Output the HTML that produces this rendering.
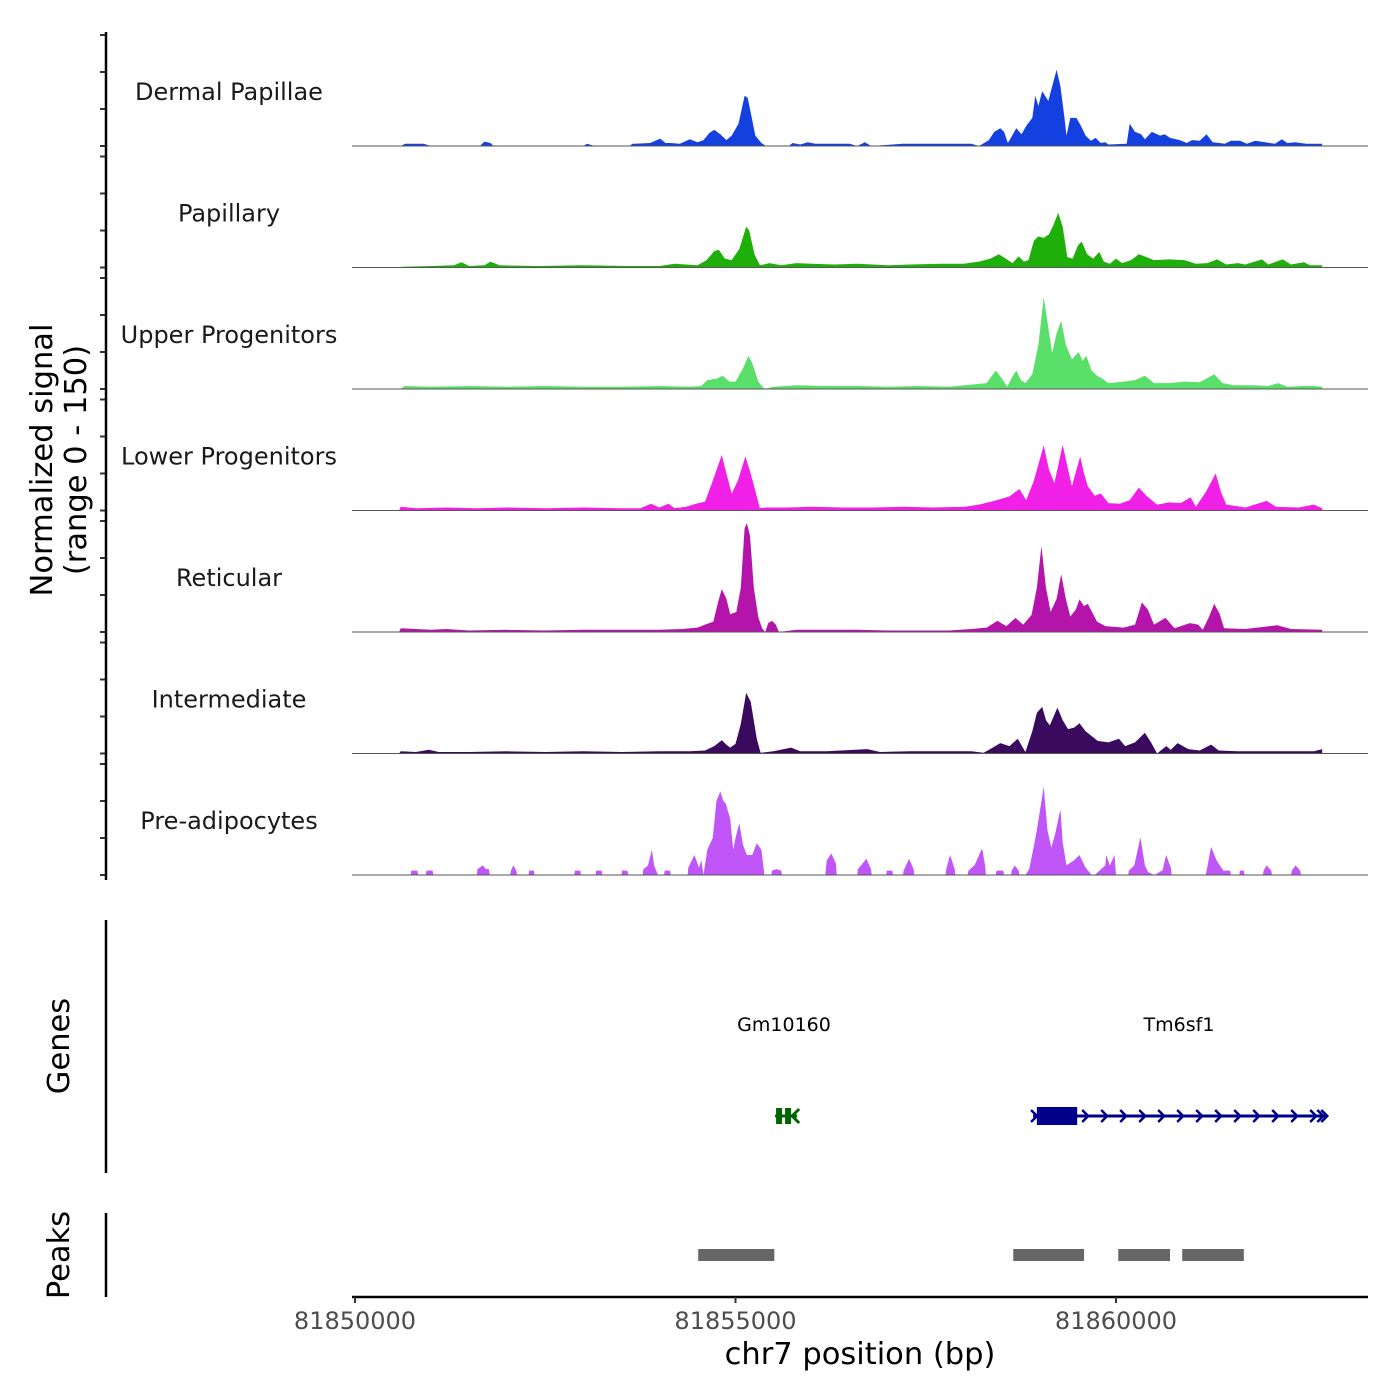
<!DOCTYPE html>
<html><head><meta charset="utf-8"><style>
html,body{margin:0;padding:0;background:#fff;}
svg{display:block;font-family:"DejaVu Sans","Liberation Sans",sans-serif;}
</style></head><body>
<svg id="chart" width="1400" height="1400" viewBox="0 0 1400 1400" xmlns="http://www.w3.org/2000/svg">
<g id="tracks"></g>
<g id="axes"></g>
<g id="genes"></g>
<g id="peaks"></g>
</svg>
<script>
// ---- data (positions in kb offset from 81,850,000; signal 0-150) ----
const regionStart = 81850000;
const trackNames = ["Dermal Papillae","Papillary","Upper Progenitors","Lower Progenitors","Reticular","Intermediate","Pre-adipocytes"];
const trackColors = ["#1540e0","#1faf0a","#5adf6a","#f020e6","#b414aa","#3a0a5f","#c055f8"];
const xTicks = [81850000, 81855000, 81860000];
const yTicks = [0, 50, 100, 150];

const dpPos = [0.60,0.66,0.90,1.0,1.64,1.70,1.78,1.82,3.0,3.05,3.15,3.6,3.65,3.88,4.01,4.08,4.14,4.27,4.40,4.50,4.58,4.66,4.72,4.80,4.88,4.95,5.04,5.12,5.16,5.21,5.26,5.34,5.40,5.7,5.75,5.85,5.95,6.05,6.2,6.5,6.6,6.7,6.78,7.2,7.6,8.0,8.1,8.2,8.33,8.40,8.48,8.53,8.58,8.63,8.69,8.76,8.82,8.90,8.94,8.98,9.03,9.11,9.18,9.22,9.27,9.32,9.35,9.40,9.48,9.54,9.60,9.67,9.73,9.80,9.86,9.9,10.14,10.18,10.25,10.33,10.38,10.47,10.58,10.64,10.71,10.84,10.93,11.0,11.10,11.19,11.27,11.36,11.43,11.51,11.63,11.72,11.83,11.96,12.09,12.18,12.25,12.35,12.5,12.71];
const dpVal = [0,3,3,0,0,6,4,0,0,3,0,0,3,4,10,4,4,3,9,5,8,18,22,16,8,14,30,68,65,40,14,4,0,0,4,2,5,3,3,3,0,5,0,3,3,3,3,0,8,19,24,19,4,13,24,16,27,38,68,54,74,61,88,103,81,40,14,38,38,27,14,7,11,4,5,2,3,30,19,16,9,19,14,16,11,8,4,8,7,16,5,4,3,7,7,3,7,5,3,9,4,5,3,3];

const papPos = [0.6,0.62,1.0,1.3,1.4,1.5,1.7,1.78,1.9,2.4,3.0,3.6,4.0,4.2,4.5,4.62,4.72,4.78,4.86,4.95,5.05,5.14,5.18,5.25,5.32,5.45,5.6,5.8,6.0,6.3,6.6,7.0,7.3,7.7,8.0,8.2,8.35,8.46,8.55,8.64,8.72,8.79,8.85,8.92,8.98,9.05,9.12,9.18,9.24,9.30,9.36,9.43,9.50,9.55,9.62,9.70,9.78,9.84,9.92,10.0,10.08,10.2,10.3,10.4,10.5,10.7,10.9,11.05,11.2,11.33,11.45,11.6,11.7,11.92,12.0,12.19,12.3,12.47,12.55,12.71];
const papVal = [0,1,2,3,7,2,3,8,3,2,3,2,2,5,3,10,22,24,12,10,25,55,50,18,3,6,3,6,5,4,5,3,4,5,5,8,12,18,12,6,15,8,10,36,42,40,45,58,74,55,14,12,30,35,18,12,21,8,5,12,6,10,18,14,10,11,10,5,6,11,4,6,4,11,4,11,4,7,3,3];

const upPos = [0.6,0.65,1.0,1.5,2.0,2.5,3.0,3.5,4.0,4.4,4.55,4.63,4.75,4.83,4.92,5.0,5.1,5.17,5.22,5.3,5.38,5.5,5.8,6.2,6.6,7.0,7.4,7.8,8.1,8.3,8.42,8.5,8.57,8.63,8.69,8.75,8.81,8.9,8.98,9.05,9.1,9.16,9.22,9.28,9.34,9.42,9.51,9.56,9.61,9.68,9.75,9.82,9.9,10.1,10.25,10.38,10.5,10.7,10.9,11.1,11.29,11.4,11.55,11.8,12.0,12.13,12.25,12.45,12.6,12.71];
const upVal = [0,4,3,4,3,4,3,3,4,3,4,12,14,18,10,10,28,45,35,10,0,3,5,4,4,3,4,3,6,8,25,14,3,15,25,12,8,20,60,124,90,49,75,92,60,40,50,38,45,25,18,14,8,10,12,18,8,8,10,9,20,8,5,5,4,8,3,4,4,3];

const loPos = [0.58,0.6,0.8,1.2,1.6,2.0,2.5,3.0,3.5,3.75,3.89,4.0,4.12,4.2,4.35,4.48,4.6,4.7,4.82,4.88,4.95,5.03,5.13,5.2,5.32,5.4,5.7,6.0,6.4,6.8,7.2,7.6,8.02,8.2,8.4,8.6,8.73,8.82,8.92,9.05,9.12,9.19,9.30,9.36,9.42,9.53,9.58,9.63,9.72,9.8,9.9,10.05,10.18,10.30,10.4,10.54,10.7,10.85,10.98,11.05,11.18,11.31,11.38,11.45,11.7,11.98,12.1,12.4,12.6,12.71];
const loVal = [0,5,3,4,3,4,3,4,3,3,9,4,9,3,5,9,12,40,75,50,23,40,73,50,3,4,4,5,4,4,5,4,5,8,13,19,29,14,40,88,55,37,89,60,33,73,50,33,20,23,10,9,14,31,20,8,11,10,18,5,25,50,25,8,4,13,5,4,8,3];

const retPos = [0.58,0.6,0.8,1.0,1.2,1.5,2.0,2.5,3.0,3.5,4.0,4.3,4.5,4.6,4.71,4.77,4.82,4.88,4.93,5.01,5.07,5.12,5.15,5.19,5.24,5.3,5.35,5.39,5.43,5.48,5.53,5.57,5.8,6.2,6.6,7.0,7.4,7.8,8.1,8.3,8.44,8.56,8.68,8.78,8.89,8.96,9.02,9.08,9.14,9.22,9.28,9.34,9.40,9.47,9.52,9.58,9.63,9.75,9.86,10.1,10.25,10.34,10.42,10.5,10.65,10.77,10.97,11.08,11.14,11.22,11.29,11.36,11.42,11.7,12.12,12.3,12.71];
const retVal = [0,5,4,3,4,2,3,2,3,3,3,4,6,10,14,40,58,45,24,27,60,140,147,130,60,20,5,0,12,15,10,0,3,3,3,2,2,2,4,6,15,8,19,10,23,60,116,60,27,45,78,45,21,30,44,35,38,14,8,6,10,40,30,10,19,5,12,10,3,20,38,25,5,4,9,4,3];

const intPos = [0.58,0.6,0.8,0.97,1.1,1.5,2.0,2.5,3.0,3.5,4.0,4.4,4.6,4.72,4.82,4.88,4.93,5.0,5.07,5.14,5.2,5.28,5.33,5.5,5.73,5.85,6.2,6.73,6.9,7.3,7.8,8.1,8.26,8.38,8.48,8.6,8.71,8.81,8.9,8.96,9.03,9.08,9.13,9.23,9.30,9.37,9.45,9.52,9.6,9.76,9.9,10.04,10.12,10.25,10.38,10.46,10.54,10.66,10.72,10.81,10.95,11.1,11.25,11.35,11.6,12.0,12.4,12.6,12.71];
const intVal = [0,3,2,5,2,2,3,2,3,2,3,3,4,10,18,12,8,13,40,82,70,20,1,3,8,3,3,6,2,3,3,3,1,8,14,10,20,2,30,55,63,45,38,62,45,33,35,41,30,17,15,20,10,15,28,15,0,10,5,14,6,4,12,4,3,3,3,3,6];

const preaPos = [0.73,0.74,0.82,0.83,0.93,0.94,1.02,1.03,1.60,1.61,1.68,1.72,1.76,1.77,2.04,2.05,2.08,2.12,2.13,2.28,2.29,2.35,2.36,2.88,2.89,2.96,2.97,3.16,3.17,3.24,3.25,3.50,3.51,3.58,3.59,3.78,3.79,3.85,3.90,3.93,3.98,4.06,4.07,4.14,4.15,4.37,4.38,4.46,4.52,4.55,4.58,4.63,4.70,4.75,4.80,4.84,4.87,4.93,4.97,5.0,5.05,5.10,5.15,5.22,5.28,5.34,5.38,5.47,5.48,5.54,5.60,5.61,6.18,6.2,6.26,6.32,6.33,6.60,6.61,6.72,6.78,6.79,6.98,6.99,7.06,7.07,7.20,7.21,7.28,7.34,7.35,7.76,7.77,7.82,7.88,7.89,8.05,8.06,8.14,8.24,8.28,8.29,8.42,8.43,8.52,8.53,8.62,8.63,8.67,8.72,8.73,8.81,8.86,8.93,8.97,9.05,9.10,9.15,9.20,9.27,9.30,9.35,9.45,9.52,9.60,9.68,9.72,9.86,9.87,9.92,9.98,10.0,10.16,10.17,10.24,10.32,10.38,10.42,10.50,10.51,10.60,10.61,10.66,10.72,10.73,11.18,11.19,11.25,11.32,11.41,11.50,11.51,11.62,11.63,11.68,11.69,11.93,11.94,11.98,12.04,12.05,12.30,12.31,12.36,12.42,12.43];
const preaVal = [0,6,6,0,0,6,6,0,0,8,13,8,8,0,0,6,13,6,0,0,6,6,0,0,6,6,0,0,6,6,0,0,6,6,0,0,8,13,34,13,0,0,6,6,0,0,10,27,10,20,0,34,50,100,113,100,97,76,34,50,70,40,27,27,43,34,0,0,6,8,6,0,0,20,29,15,0,0,8,22,8,0,0,6,6,0,0,6,22,8,0,0,8,27,8,0,0,6,13,36,13,0,0,6,6,0,0,6,13,6,0,0,8,44,67,119,60,37,55,89,44,13,20,27,10,0,0,13,27,13,27,0,0,6,13,51,13,4,0,0,6,6,27,10,0,0,6,38,20,6,6,0,0,6,6,0,0,6,13,6,0,0,6,13,6,0];

const allPos = [dpPos, papPos, upPos, loPos, retPos, intPos, preaPos];
const allVal = [dpVal, papVal, upVal, loVal, retVal, intVal, preaVal];

const geneNames = ["Gm10160","Tm6sf1"];
const geneStrands = [-1, 1];
const geneStarts = [81855520, 81858910];
const geneEnds = [81855810, 81862750];
const exonStarts = [81855540, 81858960];
const exonEnds = [81855800, 81859490];
const peakStarts = [81854510, 81858650, 81860030, 81860870];
const peakEnds = [81855510, 81859580, 81860710, 81861680];

// ---- scales ----
const NS = "http://www.w3.org/2000/svg";
const X0 = 355, PX_PER_BP = 380.5/5000;
function xScale(bp){ return X0 + (bp - regionStart) * PX_PER_BP; }
const TRACK_STEP = 121.5, FIRST_BASE = 146, PX_PER_UNIT = 0.74;
function baseY(i){ return FIRST_BASE + i*TRACK_STEP; }
function yScale(i, v){ return baseY(i) - v*PX_PER_UNIT; }
function mk(tag, attrs, parent){ const e=document.createElementNS(NS,tag); for(const k in attrs) e.setAttribute(k,attrs[k]); parent.appendChild(e); return e; }

const tracks = document.getElementById('tracks');
const axes = document.getElementById('axes');
const genes = document.getElementById('genes');
const peaks = document.getElementById('peaks');

trackNames.forEach((name, i) => {
  const pos = allPos[i], val = allVal[i];
  let d = `M${xScale(regionStart + pos[0]*1000).toFixed(1)},${baseY(i)}`;
  for (let k=0;k<pos.length;k++) d += `L${xScale(regionStart+pos[k]*1000).toFixed(1)},${yScale(i,val[k]).toFixed(1)}`;
  d += `L${xScale(regionStart + pos[pos.length-1]*1000).toFixed(1)},${baseY(i)}Z`;
  const p = mk('path', {d:d, fill:trackColors[i]}, tracks);
  
  
  const bl = mk('line', {x1:352, x2:1368, y1:baseY(i), y2:baseY(i), stroke:'#555', 'stroke-width':1}, tracks);
  
  
  const t = mk('text', {x:229, y:baseY(i)-46, 'text-anchor':'middle', 'font-size':24, fill:'#1a1a1a'}, tracks);
  t.textContent = name;
  
  
  yTicks.forEach(v => {
    const tk = mk('line', {x1:100, x2:106, y1:yScale(i,v), y2:yScale(i,v), stroke:'#333', 'stroke-width':2}, axes);
    
    
  });
});

[[32,880],[920,1173],[1213,1297]].forEach(r => {
  const l = mk('line', {x1:106, x2:106, y1:r[0], y2:r[1], stroke:'#000', 'stroke-width':2.5}, axes);
  
  
});
const yt = mk('text', {transform:'translate(52,460) rotate(-90)', 'text-anchor':'middle', 'font-size':30.5, fill:'#000'}, axes);


const ts1 = mk('tspan', {x:0, y:0}, yt); ts1.textContent = 'Normalized signal';
const ts2 = mk('tspan', {x:0, y:34}, yt); ts2.textContent = '(range 0 - 150)';
const gt = mk('text', {transform:'translate(69,1046) rotate(-90)', 'text-anchor':'middle', 'font-size':30.5, fill:'#000'}, axes);
gt.textContent = 'Genes';


const pt = mk('text', {transform:'translate(69,1255) rotate(-90)', 'text-anchor':'middle', 'font-size':30.5, fill:'#000'}, axes);
pt.textContent = 'Peaks';



const xl = mk('line', {x1:352, x2:1368, y1:1297, y2:1297, stroke:'#000', 'stroke-width':2.5}, axes);


xTicks.forEach(b => {
  const tk = mk('line', {x1:xScale(b), x2:xScale(b), y1:1297, y2:1303, stroke:'#333', 'stroke-width':2}, axes);
  
  
  const tl = mk('text', {x:xScale(b), y:1329, 'text-anchor':'middle', 'font-size':24, fill:'#4d4d4d'}, axes);
  tl.textContent = String(b);
  
  
});
const xt = mk('text', {x:860, y:1364, 'text-anchor':'middle', 'font-size':30.5, fill:'#000'}, axes);
xt.textContent = 'chr7 position (bp)';



const geneColors = ["#006400","#00008b"];
geneNames.forEach((g, i) => {
  const x1 = xScale(geneStarts[i]), x2 = xScale(geneEnds[i]);
  const c = geneColors[i], y = 1116, s = geneStrands[i];
  const lab = mk('text', {x:(i===0? 784 : 1179), y:1031, 'text-anchor':'middle', 'font-size':19, fill:'#000'}, genes);
  lab.textContent = g;
  
  
  const ln = mk('line', {x1:x1, x2:x2, y1:y, y2:y, stroke:c, 'stroke-width':3}, genes);
  
  
  if (s > 0) {
    const ex = mk('rect', {x:xScale(exonStarts[i]), y:y-9, width:xScale(exonEnds[i])-xScale(exonStarts[i]), height:18, fill:c}, genes);
    
    
    const arrows = [x1+2];
    for (let ax = xScale(exonEnds[i]) + 9; ax < x2 - 4; ax += 19) arrows.push(ax);
    arrows.push(x2 - 4, x2);
    arrows.forEach(ax => {
      const a = mk('path', {d:`M${ax-4},${y-6}L${ax+2},${y}L${ax-4},${y+6}`, fill:'none', stroke:c, 'stroke-width':2.5}, genes);
      
      
    });
  } else {
    [[x1+1,6],[x1+10,6]].forEach(e => {
      const ex = mk('rect', {x:e[0], y:y-8, width:e[1], height:16, fill:c}, genes);
      
      
    });
    const a = mk('path', {d:`M${x2+2},${y-7}L${x2-5},${y}L${x2+2},${y+7}`, fill:'none', stroke:c, 'stroke-width':3}, genes);
    
    
  }
});

peakStarts.forEach((s, i) => {
  const r = mk('rect', {x:xScale(s), y:1249, width:xScale(peakEnds[i])-xScale(s), height:12, fill:'#666666'}, peaks);
  
  
});
</script>
</body></html>
